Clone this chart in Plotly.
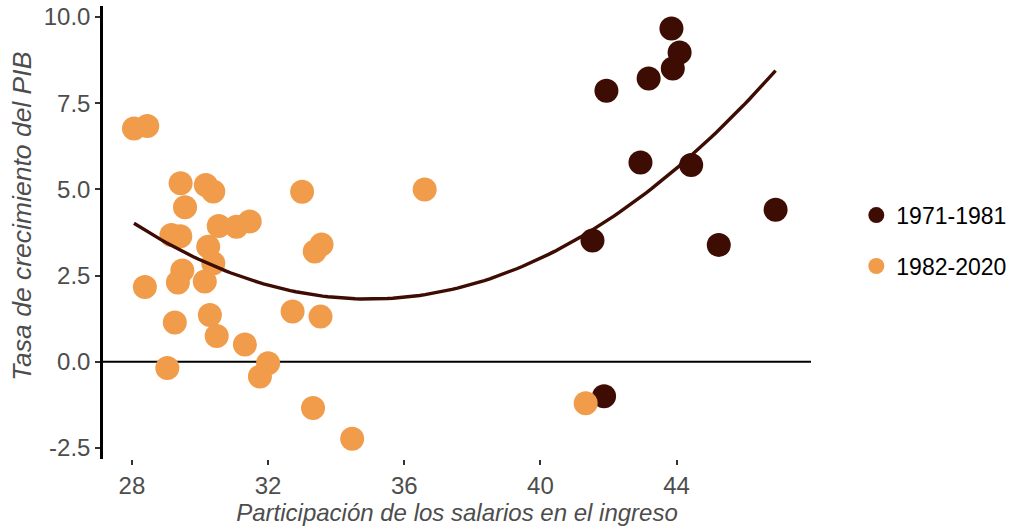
import numpy as np
import plotly.graph_objects as go

# 1971-1981
x_early = [43.85, 44.09, 43.89, 43.18, 41.94, 42.94, 44.43, 46.91, 41.53, 45.24, 41.87]
y_early = [9.67, 8.97, 8.51, 8.22, 7.86, 5.78, 5.71, 4.41, 3.52, 3.39, -1.00]

# 1982-2020
x_late = [28.06, 28.45, 29.43, 29.56, 30.17, 30.39, 33.00, 36.60, 30.55, 31.07, 31.46,
          29.16, 29.42, 30.24, 30.39, 33.57, 33.37, 29.48, 29.35, 30.14, 28.38, 29.26,
          30.29, 30.49, 31.32, 32.72, 33.54, 29.04, 32.00, 31.76, 33.32, 34.47, 41.33]
y_late = [6.77, 6.84, 5.18, 4.48, 5.13, 4.94, 4.93, 5.00, 3.94, 3.92, 4.07,
          3.68, 3.64, 3.34, 2.86, 3.40, 3.20, 2.65, 2.30, 2.33, 2.17, 1.14,
          1.36, 0.75, 0.50, 1.46, 1.31, -0.18, -0.04, -0.43, -1.34, -2.23, -1.20]

series_names = ["1971-1981", "1982-2020"]
x_ticks = [28, 32, 36, 40, 44]
y_ticks = [-2.5, 0.0, 2.5, 5.0, 7.5, 10.0]
y_tick_text = ["-2.5", "0.0", "2.5", "5.0", "7.5", "10.0"]
x_title = "Participación de los salarios en el ingreso"
y_title = "Tasa de crecimiento del PIB"

DARK = "#3D0C02"
ORANGE = "#F09C4A"
FONT = "Arial, Liberation Sans, sans-serif"
GREY = "#4D4D4D"

# quadratic fit over all observations
all_x = np.array(x_early + x_late)
all_y = np.array(y_early + y_late)
coef = np.polyfit(all_x, all_y, 2)
xs = np.linspace(all_x.min(), all_x.max(), 120)
ys = np.polyval(coef, xs)

fig = go.Figure()
fig.add_trace(go.Scatter(x=x_early, y=y_early, mode="markers", name=series_names[0],
                         legendgroup="a",
                         marker=dict(color=DARK, size=24, line=dict(width=0))))
fig.add_trace(go.Scatter(x=x_late, y=y_late, mode="markers", name=series_names[1],
                         legendgroup="b",
                         marker=dict(color=ORANGE, size=24, line=dict(width=0))))
fig.add_trace(go.Scatter(x=xs, y=ys, mode="lines", line=dict(color=DARK, width=3.4),
                         showlegend=False, hoverinfo="skip"))

xr = [27.15, 47.95]
yr = [-2.82, 10.32]

fig.add_shape(type="line", xref="x", yref="y", x0=xr[0], x1=xr[1], y0=0, y1=0,
              line=dict(color="black", width=2), layer="below")

# y-axis title
fig.add_annotation(text=y_title, xref="paper", yref="paper", x=0, y=0.535,
                   xanchor="center", yanchor="middle", xshift=-81, textangle=-90,
                   showarrow=False,
                   font=dict(size=26.5, color=GREY, family=FONT, style="italic"))

fig.update_layout(
    width=1034, height=531,
    margin=dict(l=103, r=223, t=6, b=72),
    paper_bgcolor="white", plot_bgcolor="white",
    font=dict(family=FONT, color=GREY, size=24),
    legend=dict(x=1.064, y=0.482, xanchor="left", yanchor="middle",
                font=dict(size=23, color="black"), tracegroupgap=18,
                itemsizing="trace"),
    xaxis=dict(range=xr, tickvals=x_ticks, showgrid=False, zeroline=False,
               showline=False, ticks="outside", ticklen=5, tickwidth=1.6,
               tickcolor="#333333", tickfont=dict(size=24, color=GREY),
               automargin=False,
               title=dict(text=x_title,
                          font=dict(size=24, color=GREY, style="italic"),
                          standoff=4)),
    yaxis=dict(range=yr, tickvals=y_ticks, ticktext=y_tick_text, showgrid=False,
               zeroline=False, showline=True, linecolor="black", linewidth=2.5,
               ticks="outside", ticklen=5, tickwidth=1.6, tickcolor="#333333",
               tickfont=dict(size=24, color=GREY), automargin=False),
)

fig.write_html("out.html", config={"displayModeBar": False},
               post_script="document.body.style.margin='0';")
